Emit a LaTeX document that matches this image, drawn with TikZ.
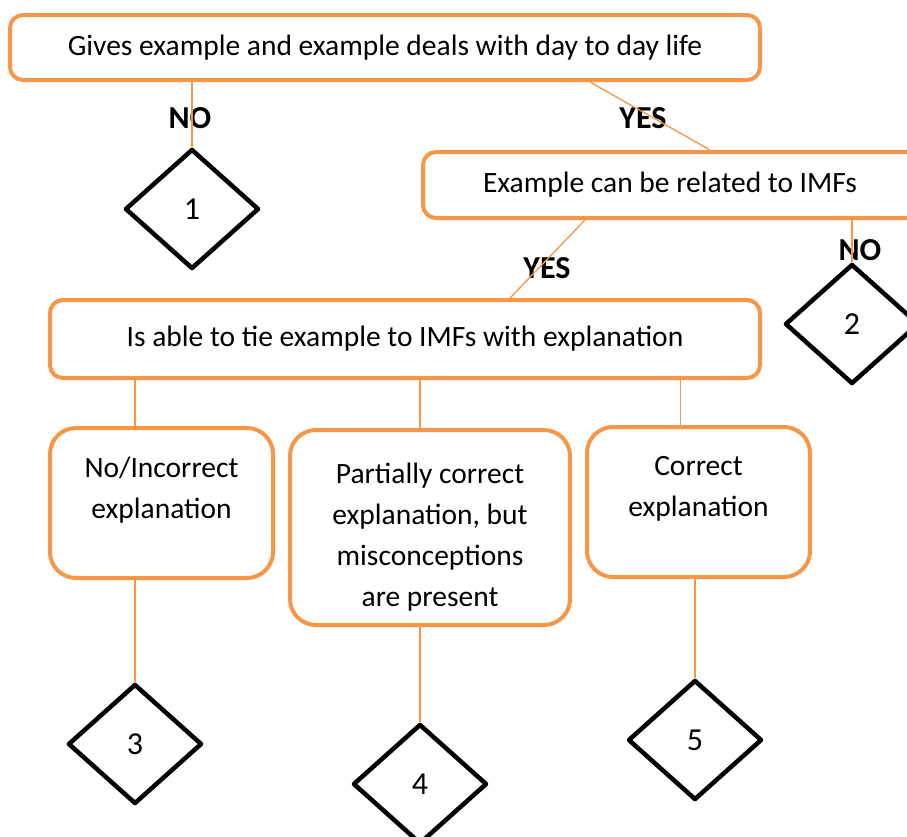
\documentclass[tikz,border=0pt]{standalone}
\usepackage{fontspec}
\setmainfont{Carlito}
\usetikzlibrary{shapes.geometric}
\definecolor{boxorange}{RGB}{247,150,70}
\begin{document}
\begin{tikzpicture}[x=1pt,y=-1pt, line join=round, line cap=round,
	box/.style={draw=boxorange, line width=4pt, rounded corners=13pt, align=center, font=\fontsize{29.5}{41}\selectfont},
	tallbox/.style={box, rounded corners=26pt},
	choice/.style={draw, diamond, line width=4.5pt, inner sep=0pt, minimum width=134pt, minimum height=120pt, aspect=1.12, font=\fontsize{32}{36}\selectfont},
	link/.style={draw=boxorange, line width=1.3pt},
	answer/.style={font=\fontsize{32}{36}\selectfont\bfseries}]
	\useasboundingbox (0,0) rectangle (907,836);
	% boxes
	\node[box, minimum width=750pt, minimum height=65pt] (gives) at (385,47.5) {Gives example and example deals with day to day life};
	\node[box, minimum width=500pt, minimum height=66pt] (related) at (673,185) {\hspace*{-3pt}Example can be related to IMFs\hspace*{3pt}};
	\node[box, minimum width=710pt, minimum height=78pt] (tie) at (405,339) {Is able to tie example to IMFs with explanation};
	\node[tallbox, minimum width=223pt, minimum height=150pt] (wrong) at (161.5,503) {No/Incorrect\\explanation\\[-10pt]\mbox{}};
	\node[tallbox, minimum width=280pt, minimum height=195pt] (partly) at (430,527.5) {Partially correct\\explanation, but\\misconceptions\\are present\\[-55pt]\mbox{}};
	\node[tallbox, minimum width=223pt, minimum height=150pt] (right) at (698.5,502) {Correct\\explanation\\[-10pt]\mbox{}};
	% scores
	\node[choice] (s1) at (192,209) {1};
	\node[choice] (s2) at (852,324) {2};
	\node[choice] (s3) at (135,744) {3};
	\node[choice] (s4) at (420,784) {4};
	\node[choice] (s5) at (695,740) {5};
	% yes / no
	\node[answer] (no1) at (190,118) {NO};
	\node[answer] (yes1) at (643,118) {YES};
	\node[answer] (yes2) at (547,268) {YES};
	\node[answer] (no2) at (860,250) {NO};
	% links
	\draw[link] (s1.north) -- (s1.north |- gives.south);
	\draw[link] ([xshift=205pt]gives.south) -- ([xshift=37pt]related.north);
	\draw[link] ([xshift=-88pt]related.south) -- ([xshift=105pt]tie.north);
	\draw[link] (s2.north) -- (s2.north |- related.south);
	\draw[link] (s3.north |- tie.south) -- (s3.north |- wrong.north);
	\draw[link] (s4.north |- tie.south) -- (s4.north |- partly.north);
	\draw[link] ([xshift=-18pt]right.north) -- ([xshift=-18pt]right.north |- tie.south);
	\draw[link] (s3.north) -- (s3.north |- wrong.south);
	\draw[link] (s4.north) -- (s4.north |- partly.south);
	\draw[link] (s5.north) -- (s5.north |- right.south);
\end{tikzpicture}
\end{document}
